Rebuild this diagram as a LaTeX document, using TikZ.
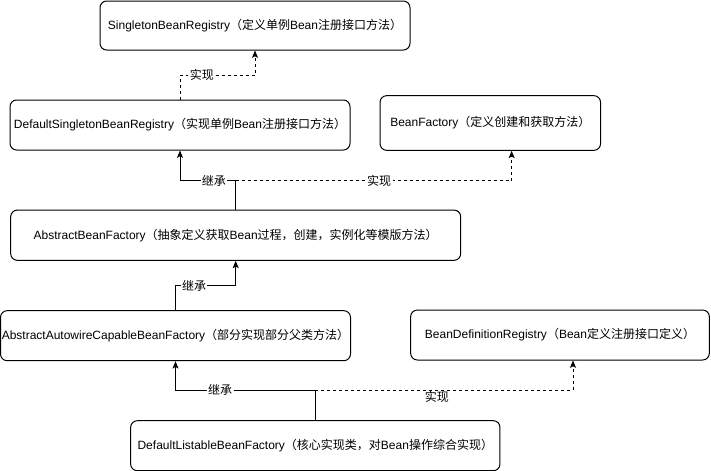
\documentclass[tikz,border=0pt]{standalone}
\usepackage{fontspec}
\setmainfont{Liberation Sans}
\newfontfamily\cjk{Noto Sans CJK SC}
\usetikzlibrary{arrows.meta}
\newcommand\zh[1]{{\cjk #1}}
\begin{document}
\begin{tikzpicture}[x=0.75pt,y=-0.75pt,
  every node/.style={font=\fontsize{9}{11}\selectfont},
  box/.style={draw, line width=0.75pt, rounded corners=5pt, inner sep=0pt, align=center},
  conn/.style={line width=0.75pt, -{Stealth[length=5.5pt,width=4.5pt,inset=1.2pt]}},
  inh/.style={conn},
  impl/.style={conn, dash pattern=on 2.25pt off 2.25pt},
  lbl/.style={fill=white, inner sep=1pt}]
\fill[white] (0,0) rectangle (711,471);
\useasboundingbox (0,0) rectangle (711,471);

\node[box, minimum width=232.5pt, minimum height=36.75pt] (b1) at (255,25.5) {SingletonBeanRegistry\zh{（定义单例}Bean\zh{注册接口方法）}};
\node[box, minimum width=255pt, minimum height=37.5pt] (b2) at (180,125) {DefaultSingletonBeanRegistry\zh{（实现单例}Bean\zh{注册接口方法）}};
\node[box, minimum width=165.4pt, minimum height=41pt] (b3) at (490.3,123) {BeanFactory\zh{（定义创建和获取方法）}};
\node[box, minimum width=337.5pt, minimum height=37.7pt] (b4) at (235.7,235.2) {AbstractBeanFactory\zh{（抽象定义获取}Bean\zh{过程，创建，实例化等模版方法）}};
\node[box, minimum width=262.5pt, minimum height=37.5pt] (b5) at (175.5,335.7) {AbstractAutowireCapableBeanFactory\zh{（部分实现部分父类方法）}};
\node[box, minimum width=224pt, minimum height=37.5pt] (b6) at (560,335) {BeanDefinitionRegistry\zh{（}Bean\zh{定义注册接口定义）}};
\node[box, minimum width=277pt, minimum height=37.5pt] (b7) at (315.3,445.7) {DefaultListableBeanFactory\zh{（核心实现类，对}Bean\zh{操作综合实现）}};

\coordinate (y1) at (0,75.3);
\coordinate (y2) at (0,180.7);
\coordinate (y3) at (0,285.7);
\coordinate (y4) at (0,390);

\draw[impl] (b2.north) -- (b2.north |- y1) -| node[lbl, pos=0.145] (t1) {\zh{实现}} (b1.south);
\draw[inh] (b4.north) -- (b4.north |- y2) -| node[lbl, pos=0.195] (t2) {\zh{继承}} (b2.south);
\draw[impl] (b4.north |- y2) -| node[lbl, pos=0.26] (t3) {\zh{实现}} ([xshift=16pt]b3.south);
\draw[inh] (b5.north) -- (b5.north |- y3) -| node[lbl, pos=0.155] (t4) {\zh{继承}} (b4.south);
\draw[inh] (b7.north) -- (b7.north |- y4) -| node[lbl, pos=0.34] (t5) {\zh{继承}} (b5.south);
\draw[impl] (b7.north |- y4) -| node[below, inner sep=0.5pt, pos=0.236] (t6) {\zh{实现}} ([xshift=9.75pt]b6.south);
\end{tikzpicture}
\end{document}
